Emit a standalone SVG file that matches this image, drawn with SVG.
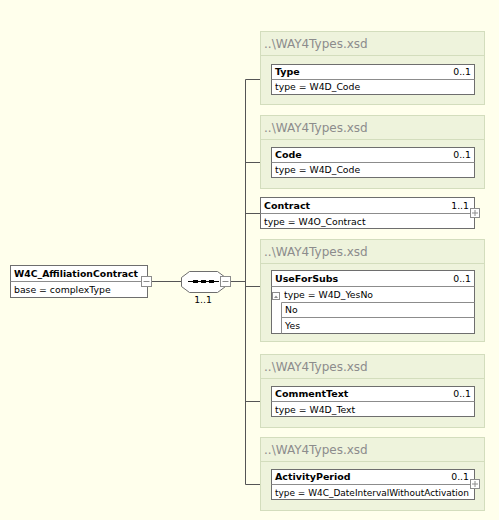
<svg xmlns="http://www.w3.org/2000/svg" width="499" height="520" viewBox="0 0 499 520">
<style>
.grp{fill:#eef3dc;stroke:#d3ddbd;stroke-width:1}
.gsep{stroke:#d3ddbd;stroke-width:1}
.gt{font-family:"DejaVu Sans",sans-serif;font-size:12px;fill:#8c8c8c}
.box{fill:#ffffff;stroke:#6e6e6e;stroke-width:1}
.sep{stroke:#8c8c8c;stroke-width:1}
.b{font-family:"DejaVu Sans",sans-serif;font-size:9.5px;font-weight:bold;fill:#000}
.t{font-family:"DejaVu Sans",sans-serif;font-size:9.3px;fill:#000}
.con{stroke:#555;stroke-width:1;fill:none}
.pm{fill:#fff;stroke:#8c8c8c;stroke-width:1}
.pmg{stroke:#8c8c8c;stroke-width:1}
</style>
<rect x="0" y="0" width="499" height="520" fill="#ffffec"/>
<g id="connectors">
<path class="con" d="M151.5 281.5H181.5"/>
<path class="con" d="M230.5 281.5H245.5"/>
<path class="con" d="M245.5 79.5V484.5"/>
<path class="con" d="M245.5 79.5H271"/>
<path class="con" d="M245.5 162.5H271"/>
<path class="con" d="M245.5 213.5H260"/>
<path class="con" d="M245.5 286.5H271"/>
<path class="con" d="M245.5 401.5H271"/>
<path class="con" d="M245.5 484.5H271"/>
</g>
<g id="root">
<rect class="box" x="10.5" y="265.5" width="137" height="32"/>
<line class="sep" x1="10.5" y1="281.5" x2="147.5" y2="281.5"/>
<text class="b" x="14" y="277" textLength="124" lengthAdjust="spacingAndGlyphs">W4C_AffiliationContract</text>
<text class="t" x="14" y="293">base = complexType</text>
<rect class="pm" x="141.5" y="276.5" width="10" height="10"/>
<line class="pmg" x1="143.5" y1="281.5" x2="149.5" y2="281.5"/>
</g>
<g id="sequence">
<path d="M189.5 271.5H217.5L225.5 277.5V286.5L217.5 292.5H189.5L181.5 286.5V277.5Z" fill="#fff" stroke="#6e6e6e"/>
<line x1="188" y1="281.5" x2="219" y2="281.5" stroke="#000" stroke-width="1"/>
<rect x="193" y="280" width="5" height="3" fill="#000"/>
<rect x="201" y="280" width="5" height="3" fill="#000"/>
<rect x="209" y="280" width="5" height="3" fill="#000"/>
<rect class="pm" x="220.5" y="276.5" width="10" height="10"/>
<line class="pmg" x1="222.5" y1="281.5" x2="228.5" y2="281.5"/>
<text class="t" x="203" y="303" text-anchor="middle" font-size="9">1..1</text>
</g>
<g id="type">
<rect class="grp" x="260.5" y="31.5" width="224" height="73"/>
<line class="gsep" x1="260.5" y1="55.5" x2="484.5" y2="55.5"/>
<text class="gt" x="264" y="48">..\WAY4Types.xsd</text>
<rect class="box" x="271.5" y="64.5" width="203" height="30"/>
<line class="sep" x1="271.5" y1="79.5" x2="474.5" y2="79.5"/>
<text class="b" x="275" y="75">Type</text>
<text class="t" x="471" y="75" text-anchor="end">0..1</text>
<text class="t" x="275" y="90">type = W4D_Code</text>
</g>
<g id="code">
<rect class="grp" x="260.5" y="115.5" width="224" height="73"/>
<line class="gsep" x1="260.5" y1="139.5" x2="484.5" y2="139.5"/>
<text class="gt" x="264" y="132">..\WAY4Types.xsd</text>
<rect class="box" x="271.5" y="147.5" width="203" height="30"/>
<line class="sep" x1="271.5" y1="162.5" x2="474.5" y2="162.5"/>
<text class="b" x="275" y="158">Code</text>
<text class="t" x="471" y="158" text-anchor="end">0..1</text>
<text class="t" x="275" y="173">type = W4D_Code</text>
</g>
<g id="contract">
<rect class="box" x="260.5" y="197.5" width="214" height="31"/>
<line class="sep" x1="260.5" y1="213.5" x2="474.5" y2="213.5"/>
<text class="b" x="264" y="209">Contract</text>
<text class="t" x="469" y="209" text-anchor="end">1..1</text>
<text class="t" x="264" y="225">type = W4O_Contract</text>
<rect class="pm" x="470.5" y="208.5" width="9" height="9"/>
<line class="pmg" x1="472" y1="213" x2="478" y2="213"/>
<line class="pmg" x1="475" y1="210" x2="475" y2="216"/>
</g>
<g id="useforsubs">
<rect class="grp" x="260.5" y="239.5" width="224" height="102"/>
<line class="gsep" x1="260.5" y1="263.5" x2="484.5" y2="263.5"/>
<text class="gt" x="264" y="256">..\WAY4Types.xsd</text>
<rect class="box" x="271.5" y="270.5" width="203" height="63"/>
<line class="sep" x1="271.5" y1="286.5" x2="474.5" y2="286.5"/>
<line class="sep" x1="281.5" y1="302.5" x2="474.5" y2="302.5"/>
<line class="sep" x1="281.5" y1="317.5" x2="474.5" y2="317.5"/>
<line class="sep" x1="281.5" y1="302.5" x2="281.5" y2="333.5"/>
<text class="b" x="275" y="282">UseForSubs</text>
<text class="t" x="471" y="282" text-anchor="end">0..1</text>
<rect class="pm" x="272.5" y="292.5" width="7" height="7"/>
<path d="M274 298L276 295.5L278 298Z" fill="#8c8c8c"/>
<text class="t" x="284" y="298">type = W4D_YesNo</text>
<text class="t" x="285" y="313">No</text>
<text class="t" x="285" y="329">Yes</text>
</g>
<g id="commenttext">
<rect class="grp" x="260.5" y="354.5" width="224" height="73"/>
<line class="gsep" x1="260.5" y1="378.5" x2="484.5" y2="378.5"/>
<text class="gt" x="264" y="371">..\WAY4Types.xsd</text>
<rect class="box" x="271.5" y="386.5" width="203" height="30"/>
<line class="sep" x1="271.5" y1="401.5" x2="474.5" y2="401.5"/>
<text class="b" x="275" y="397">CommentText</text>
<text class="t" x="471" y="397" text-anchor="end">0..1</text>
<text class="t" x="275" y="413">type = W4D_Text</text>
</g>
<g id="activityperiod">
<rect class="grp" x="260.5" y="437.5" width="224" height="73"/>
<line class="gsep" x1="260.5" y1="461.5" x2="484.5" y2="461.5"/>
<text class="gt" x="264" y="454">..\WAY4Types.xsd</text>
<rect class="box" x="271.5" y="469.5" width="203" height="30"/>
<line class="sep" x1="271.5" y1="484.5" x2="474.5" y2="484.5"/>
<text class="b" x="275" y="480">ActivityPeriod</text>
<text class="t" x="469" y="480" text-anchor="end">0..1</text>
<text class="t" x="275" y="496" textLength="194" lengthAdjust="spacingAndGlyphs">type = W4C_DateIntervalWithoutActivation</text>
<rect class="pm" x="470.5" y="479.5" width="9" height="9"/>
<line class="pmg" x1="472" y1="484" x2="478" y2="484"/>
<line class="pmg" x1="475" y1="481" x2="475" y2="487"/>
</g>
</svg>
